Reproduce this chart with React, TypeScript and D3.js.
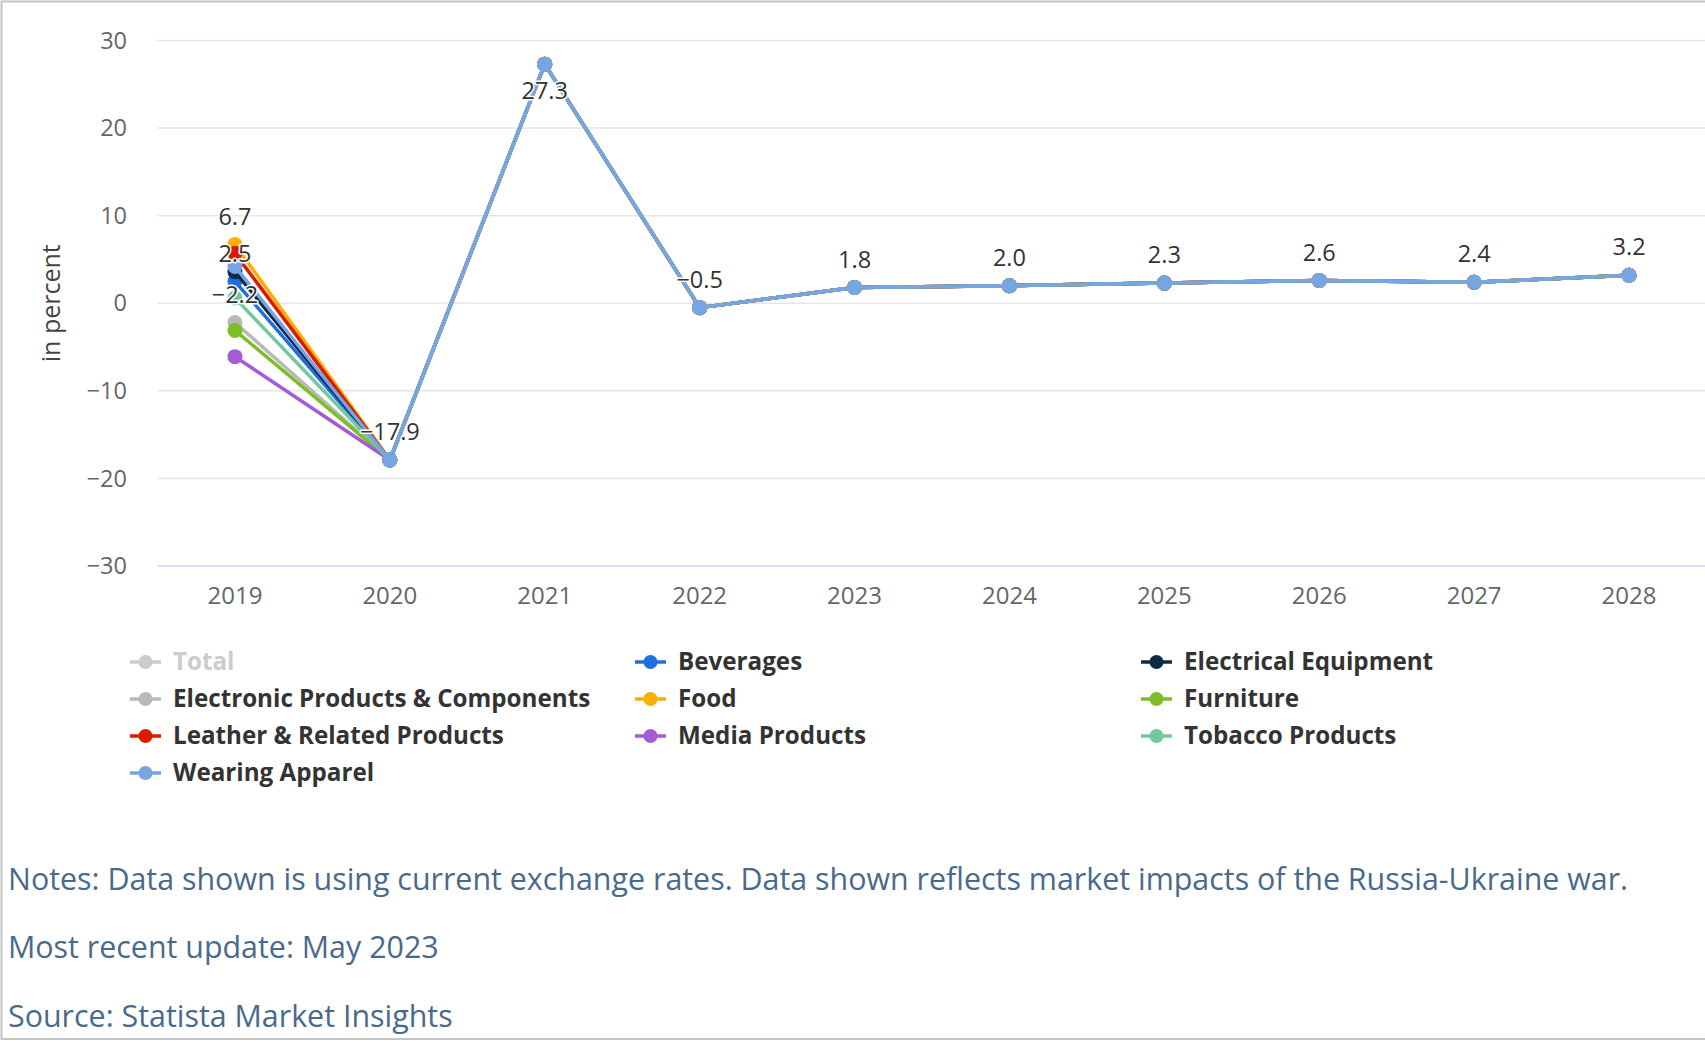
import React from "react";
import * as d3 from "d3";

// ---------- data ----------
const years = ["2019", "2020", "2021", "2022", "2023", "2024", "2025", "2026", "2027", "2028"];
const yTicks = [-30, -20, -10, 0, 10, 20, 30];

const beverages = [2.5, -17.9, 27.3, -0.5, 1.8, 2.0, 2.3, 2.6, 2.4, 3.2];
const electricalEquipment = [3.6, -17.9, 27.3, -0.5, 1.8, 2.0, 2.3, 2.6, 2.4, 3.2];
const electronicProducts = [-2.2, -17.9, 27.3, -0.5, 1.8, 2.0, 2.3, 2.6, 2.4, 3.2];
const food = [6.7, -17.9, 27.3, -0.5, 1.8, 2.0, 2.3, 2.6, 2.4, 3.2];
const furniture = [-3.1, -17.9, 27.3, -0.5, 1.8, 2.0, 2.3, 2.6, 2.4, 3.2];
const leather = [5.7, -17.9, 27.3, -0.5, 1.8, 2.0, 2.3, 2.6, 2.4, 3.2];
const mediaProducts = [-6.1, -17.9, 27.3, -0.5, 1.8, 2.0, 2.3, 2.6, 2.4, 3.2];
const tobacco = [0.6, -17.9, 27.3, -0.5, 1.8, 2.0, 2.3, 2.6, 2.4, 3.2];
const wearingApparel = [4.2, -17.9, 27.3, -0.5, 1.8, 2.0, 2.3, 2.6, 2.4, 3.2];

const legendNames = [
  "Total",
  "Beverages",
  "Electrical Equipment",
  "Electronic Products & Components",
  "Food",
  "Furniture",
  "Leather & Related Products",
  "Media Products",
  "Tobacco Products",
  "Wearing Apparel",
];
const legendColors = [
  "#cccccc",
  "#1f6fde",
  "#0f2a44",
  "#b9b9b9",
  "#fcaf00",
  "#7dbd26",
  "#dd1a00",
  "#a35bd6",
  "#72c8a0",
  "#76a6e2",
];
const hiddenSeries = ["Total"];

// labels visible in the 2019 column (others overlap and are hidden)
const labelled2019 = ["Food", "Beverages", "Electronic Products & Components"];
const labelSeriesLater = "Wearing Apparel";

const notes = [
  "Notes: Data shown is using current exchange rates. Data shown reflects market impacts of the Russia-Ukraine war.",
  "Most recent update: May 2023",
  "Source: Statista Market Insights",
];

const seriesValues: Record<string, number[] | null> = {
  Total: null,
  Beverages: beverages,
  "Electrical Equipment": electricalEquipment,
  "Electronic Products & Components": electronicProducts,
  Food: food,
  Furniture: furniture,
  "Leather & Related Products": leather,
  "Media Products": mediaProducts,
  "Tobacco Products": tobacco,
  "Wearing Apparel": wearingApparel,
};

// ---------- layout ----------
const W = 1705;
const H = 1041;
const plotLeft = 157.5;
const plotRight = 1706.5;
const plotTop = 40.5;
const plotBottom = 566;
const FONT = "'Open Sans', 'Noto Sans', sans-serif";

export default function App() {
  const x = d3.scaleBand<string>().domain(years).range([plotLeft, plotRight]).padding(0);
  const y = d3.scaleLinear().domain([-30, 30]).range([plotBottom, plotTop]);
  const cx = (yr: string) => (x(yr) as number) + x.bandwidth() / 2;

  const line = d3
    .line<number>()
    .x((_, i) => cx(years[i]))
    .y((v) => y(v));

  const visible = legendNames.filter((n) => !hiddenSeries.includes(n) && seriesValues[n]);

  const labels: { x: number; y: number; text: string }[] = [];
  years.forEach((yr, i) => {
    const names = i === 0 ? labelled2019 : [labelSeriesLater];
    names.forEach((n) => {
      const v = (seriesValues[n] as number[])[i];
      const py = y(v);
      const ly = py - 28 < plotTop + 8 ? py + 27 : py - 28;
      labels.push({ x: cx(yr), y: ly, text: d3.format(".1f")(v).replace("-", "\u2212") });
    });
  });

  const legendCols = [130, 635, 1141];
  const legendRows = [662, 699, 736, 773];

  return (
    <svg
      width={W}
      height={H}
      style={{ position: "absolute", left: 0, top: 0, background: "#fff" }}
      fontFamily={FONT}
    >
      <rect x={1.5} y={1.5} width={W + 10} height={H - 3.5} fill="#fff" stroke="#c4c4c4" strokeWidth={2} />

      {/* grid */}
      {yTicks.map((t) => (
        <line
          key={t}
          x1={plotLeft}
          x2={W}
          y1={y(t)}
          y2={y(t)}
          stroke={t === -30 ? "#ccd6eb" : "#e6e6e6"}
          strokeWidth={1.5}
        />
      ))}

      {/* y tick labels */}
      {yTicks.map((t) => (
        <text key={t} x={127} y={y(t)} dy="0.35em" textAnchor="end" fontSize={23.5} fill="#666">
          {t < 0 ? "\u2212" + Math.abs(t) : t}
        </text>
      ))}

      {/* y title */}
      <text
        transform={`translate(51,${(plotTop + plotBottom) / 2}) rotate(-90)`}
        textAnchor="middle"
        dy="0.35em"
        fontSize={25}
        fill="#444"
      >
        in percent
      </text>

      {/* x tick labels */}
      {years.map((yr) => (
        <text key={yr} x={cx(yr)} y={596} dy="0.35em" textAnchor="middle" fontSize={24} fill="#666">
          {yr}
        </text>
      ))}

      {/* series */}
      {visible.map((n) => {
        const vals = seriesValues[n] as number[];
        const col = legendColors[legendNames.indexOf(n)];
        return (
          <g key={n}>
            <path d={line(vals) as string} fill="none" stroke={col} strokeWidth={3.5} strokeLinejoin="round" />
            {vals.map((v, i) => (
              <circle key={i} cx={cx(years[i])} cy={y(v)} r={7.5} fill={col} />
            ))}
          </g>
        );
      })}

      {/* data labels */}
      {labels.map((l, i) => (
        <text
          key={i}
          x={l.x}
          y={l.y}
          dy="0.35em"
          textAnchor="middle"
          fontSize={23.5}
          fill="#333"
          stroke="#fff"
          strokeWidth={3}
          paintOrder="stroke"
          strokeLinejoin="round"
        >
          {l.text}
        </text>
      ))}

      {/* legend */}
      {legendNames.map((n, i) => {
        const lx = legendCols[i % 3];
        const ly = legendRows[Math.floor(i / 3)];
        const hidden = hiddenSeries.includes(n);
        const col = hidden ? "#cccccc" : legendColors[i];
        return (
          <g key={n}>
            <line x1={lx} x2={lx + 31} y1={ly} y2={ly} stroke={col} strokeWidth={3.5} />
            <circle cx={lx + 15.5} cy={ly} r={7} fill={col} />
            <text x={lx + 43} y={ly} dy="0.35em" fontSize={24.2} fontWeight={700} fill={hidden ? "#cccccc" : "#333"}>
              {n}
            </text>
          </g>
        );
      })}

      {/* notes */}
      {notes.map((t, i) => (
        <text key={i} x={8} y={[879, 947, 1016][i]} dy="0.35em" fontSize={30.4} fill="#4a6a8c">
          {t}
        </text>
      ))}
    </svg>
  );
}
